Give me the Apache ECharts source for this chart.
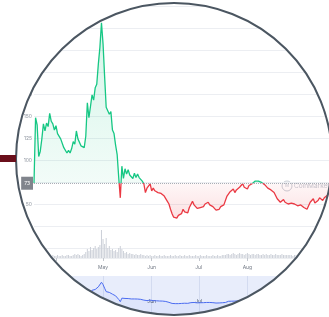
<!DOCTYPE html>
<html><head><meta charset="utf-8">
<script src="https://cdn.jsdelivr.net/npm/echarts@6/dist/echarts.min.js"></script>
<style>html,body{margin:0;padding:0;background:#fff}#c{width:329px;height:317px}</style>
</head><body><div id="c"></div>
<script>
const startDate = '2021-03-18';
const prices = [73.6,
148,140,104,110,124,141,133,142,138,
153,144,141,134,139,130,131,124,126,114,
113,108,111,108,113,121,118,133,124,126,
116,118,114,127,165,148,146,174,168,182,
186,209,228,256,232,195,160,162,152,155,
134,130,117,106,80,57,93,79,90,84,
89,83,85,79,85,80,84,80,81,76,
73,63,68,66,73,65,68,65,66,63,
64,62,63,59,59,53,50,44,39,35,
37,34,37,35,39,44,41,43,40,46,
47,53,49,48,45,47,46,48,47,50,
49,52,49,50,47,47,43,44,44,47,
46,49,49,59,61,64,62,67,63,66,
65,69,70,73,69,68,67,71,71,73,
75,76,75,76,75,74.5,74,72,71,68,
69,66,67,63,64,56,55,52,53,55,
52,53,50,52,51,52,50,51,48,50,
49,49,46,47,44,48,52,52,56,51,
49,54,57,55,54,57,57,60,59];
const volumes = [3,2,3,3,2,3,2,3,3,2,
3,2,3,2,2,3,2,2,3,2,2,3,3,2,2,3,4,3,4,3,2,3,4,
6,
9,7,11,8,10,12,9,11,13,
28,19,14,20,10,
12,8,9,7,8,6,10,12,9,7,
5,6,4,5,4,4,3,4,3,3,4,
3,3,2,3,2,3,2,2,3,2,2,3,2,2,3,2,2,2,3,2,2,3,2,2,3,
2,2,3,2,2,3,2,2,2,3,2,2,3,2,2,2,3,2,2,2,3,2,2,3,2,2,3,3,
3,4,4,3,4,5,4,3,4,5,4,4,3,4,5,4,3,4,4,3,4,4,3,3,4,3,4,3,3,4,3,3,4,3,3,3,4,3,3,3,3,3,
3,2,3,3,2,3,2,3,3,2,2,3,2,3,2,2,3,2,3,2,2,3,2,2,3];
const monthNames = {'01':'Jan','02':'Feb','03':'Mar','04':'Apr','05':'May','06':'Jun','07':'Jul','08':'Aug','09':'Sep','10':'Oct','11':'Nov','12':'Dec'};
const priceTicks = [0,25,50,75,100,125,150,175,200,225,250,275];

const dates = [];
{
  const d0 = new Date(startDate + 'T00:00:00Z');
  for (let i = 0; i < prices.length; i++) {
    const d = new Date(d0.getTime() + i * 86400000);
    dates.push(d.toISOString().slice(0, 10));
  }
}
const base = prices[0];
const maxP = Math.max(...prices), minP = Math.min(...prices);
const off = (maxP - base) / (maxP - minP);
const isMonthStart = (i, v) => v.slice(8) === '01';
const monthFmt = v => monthNames[v.slice(5, 7)];
const GREEN = '#16c784', RED = '#ea3943';
const FONT = 'Inter, Roboto, sans-serif';

const chart = echarts.init(document.getElementById('c'), null, {renderer: 'canvas'});
chart.setOption({
  animation: false,
  backgroundColor: '#fff',
  textStyle: {fontFamily: FONT},
  grid: [
    {left: 34, right: 0, top: 6, height: 242},
    {left: 34, right: 0, top: 228, height: 30},
    {left: 34, right: 0, top: 276, height: 41, show: true, backgroundColor: '#e8edfb', borderWidth: 0}
  ],
  xAxis: [
    {type: 'category', gridIndex: 0, data: dates, boundaryGap: false, show: false},
    {type: 'category', gridIndex: 1, data: dates, boundaryGap: false,
      axisLine: {show: true, lineStyle: {color: '#eceef1'}},
      axisTick: {show: true, interval: isMonthStart, length: 3, lineStyle: {color: '#c3c7ce'}},
      axisLabel: {interval: isMonthStart, formatter: monthFmt, fontSize: 5, color: '#737a86', margin: 7, fontFamily: FONT}},
    {type: 'category', gridIndex: 2, data: dates, boundaryGap: false,
      axisLine: {show: false}, axisTick: {show: false},
      splitLine: {show: true, interval: isMonthStart, lineStyle: {color: '#d3dbf0'}},
      axisLabel: {inside: true, interval: isMonthStart, formatter: monthFmt, fontSize: 5, color: '#4f5b70', margin: 13, fontFamily: FONT}}
  ],
  yAxis: [
    {type: 'value', gridIndex: 0, min: priceTicks[0], max: priceTicks[priceTicks.length - 1], interval: 25,
      axisLine: {show: false}, axisTick: {show: false},
      splitLine: {lineStyle: {color: '#eceef2'}},
      axisLabel: {fontSize: 5, color: '#8f96a0', margin: 2, fontFamily: FONT,
        formatter: v => (v === 75 ? '' : String(v))}},
    {type: 'value', gridIndex: 1, min: 0, max: 30, show: false},
    {type: 'value', gridIndex: 2, min: -100, max: 320, show: false}
  ],
  visualMap: {
    type: 'piecewise', show: false, seriesIndex: 0, dimension: 1,
    pieces: [{lte: base, color: RED}, {gt: base, lte: maxP * 10, color: GREEN}, {gt: maxP * 10, color: GREEN}]
  },
  graphic: [
    {type: 'group', z: 1, children: [
      {type: 'circle', shape: {cx: 287, cy: 186, r: 5}, style: {fill: 'none', stroke: '#c9ced6', lineWidth: 1}},
      {type: 'text', x: 284.8, y: 183.2, style: {text: 'M', fill: '#c9ced6', font: '5px Inter, sans-serif'}},
      {type: 'text', x: 294, y: 182.5, style: {text: 'CoinMarketCap', fill: '#c2c7d0', font: '6.5px Inter, Roboto, sans-serif'}}
    ]},
    {type: 'ring', z: 100, x: 174, y: 159, scaleX: 158 / 156, shape: {cx: 0, cy: 0, r: 420, r0: 156}, style: {fill: '#fff'}},
    {type: 'circle', z: 101, x: 174, y: 159, scaleX: 158 / 156, shape: {cx: 0, cy: 0, r: 156}, style: {fill: 'none', stroke: '#4b5661', lineWidth: 2}},
    {type: 'rect', z: 102, shape: {x: 0, y: 155, width: 16, height: 7}, style: {fill: '#6a0f1b'}}
  ],
  series: [
    {type: 'line', xAxisIndex: 0, yAxisIndex: 0, data: prices, showSymbol: false, symbol: 'none',
      lineStyle: {width: 1.3},
      areaStyle: {origin: base, color: new echarts.graphic.LinearGradient(0, 0, 0, 1, [
        {offset: 0, color: 'rgba(22,199,132,0.26)'},
        {offset: off, color: 'rgba(22,199,132,0.08)'},
        {offset: off, color: 'rgba(234,57,67,0.06)'},
        {offset: 1, color: 'rgba(234,57,67,0.22)'}
      ])},
      markLine: {silent: true, symbol: 'none', animation: false,
        lineStyle: {type: 'dotted', color: '#a9aeb6', width: 1},
        label: {position: 'start', formatter: String(Math.floor(base)), backgroundColor: '#80848c', color: '#fff',
          padding: [4, 3], fontSize: 5, distance: 1, fontFamily: FONT},
        data: [{yAxis: base}]}
    },
    {type: 'bar', xAxisIndex: 1, yAxisIndex: 1, data: volumes, barWidth: '65%',
      itemStyle: {color: '#cdd1d9'}},
    {type: 'line', xAxisIndex: 2, yAxisIndex: 2, data: prices, showSymbol: false, symbol: 'none',
      lineStyle: {width: 1, color: '#4b6cf0'},
      areaStyle: {origin: 'start', color: 'rgba(56,97,251,0.08)'}}
  ]
});
</script></body></html>
